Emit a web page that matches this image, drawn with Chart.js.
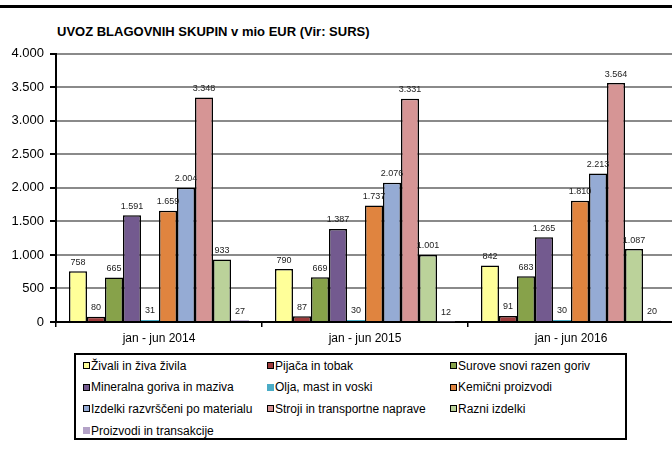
<!DOCTYPE html>
<html>
<head>
<meta charset="utf-8">
<script src="https://cdn.jsdelivr.net/npm/chart.js@4/dist/chart.umd.min.js"></script>
<style>
  body { margin: 0; background: #fff; }
  #wrap { position: relative; width: 672px; height: 452px; overflow: hidden; background: #fff;
          font-family: "Liberation Sans", Arial, sans-serif; }
  #topline { position: absolute; left: 0; top: 5px; width: 672px; height: 3px; background: #000; }
  #title { position: absolute; left: 57px; top: 24px; font-weight: bold; font-size: 13px; line-height: 16px; color: #000; }
  #chartBox { position: absolute; left: 0; top: 40px; }
  #legend { position: absolute; left: 74px; top: 353px; width: 553px; height: 87px; box-sizing: border-box;
            border: 2px solid #000; padding: 0 0 0 7px; display: grid;
            grid-template-columns: 184px 183px auto; grid-auto-rows: 21.6px; font-size: 12px; color: #000; }
  #legend .item { display: flex; align-items: center; white-space: nowrap; }
  #legend .sw { width: 7px; height: 7px; box-sizing: border-box; margin-right: 1px; flex: none; }
</style>
</head>
<body>
<div id="wrap">
  <div id="topline"></div>
  <div id="title">UVOZ BLAGOVNIH SKUPIN v mio EUR (Vir: SURS)</div>
  <div id="chartBox"><canvas id="chart" width="680" height="310"></canvas></div>
  <div id="legend"></div>
</div>
<script>
// podatki
const categories = ["jan - jun 2014", "jan - jun 2015", "jan - jun 2016"];
const seriesNames = ["Živali in živa živila", "Pijača in tobak", "Surove snovi razen goriv",
  "Mineralna goriva in maziva", "Olja, mast in voski", "Kemični proizvodi",
  "Izdelki razvrščeni po materialu", "Stroji in transportne naprave", "Razni izdelki",
  "Proizvodi in transakcije"];
const zivali = [758, 790, 842];
const pijaca = [80, 87, 91];
const surove = [665, 669, 683];
const mineralna = [1591, 1387, 1265];
const olja = [31, 30, 30];
const kemicni = [1659, 1737, 1810];
const izdelki = [2004, 2076, 2213];
const stroji = [3348, 3331, 3564];
const razni = [933, 1001, 1087];
const proizvodi = [27, 12, 20];
const yTicks = [0, 500, 1000, 1500, 2000, 2500, 3000, 3500, 4000];

const seriesValues = [zivali, pijaca, surove, mineralna, olja, kemicni, izdelki, stroji, razni, proizvodi];
const colors = ["#FFFF99", "#9E3B3B", "#87A24A", "#735A8F", "#4BACC6", "#E0843F",
  "#95ABD4", "#D69595", "#BBD29A", "#B3A2C7"];
const noBorder = [false, false, false, false, true, false, false, false, false, true];

function fmt(v) {
  return String(v).replace(/\B(?=(\d{3})+(?!\d))/g, ".");
}

Chart.defaults.font.family = '"Liberation Sans", Arial, sans-serif';
Chart.defaults.color = "#000";

const datasets = seriesNames.map((name, i) => ({
  label: name,
  data: seriesValues[i],
  backgroundColor: colors[i],
  borderColor: noBorder[i] ? colors[i] : "#000",
  borderWidth: noBorder[i] ? 0 : 1.5,
  categoryPercentage: 0.874,
  barPercentage: 1
}));

// vrednosti nad stolpci
const valueLabels = {
  id: "valueLabels",
  afterDatasetsDraw(chart) {
    const ctx = chart.ctx;
    ctx.save();
    ctx.font = '9px "Liberation Sans", Arial, sans-serif';
    ctx.fillStyle = "#222";
    ctx.textAlign = "center";
    ctx.textBaseline = "middle";
    chart.data.datasets.forEach((ds, i) => {
      chart.getDatasetMeta(i).data.forEach((bar, j) => {
        ctx.fillText(fmt(ds.data[j]), bar.x, bar.y - 9);
      });
    });
    ctx.restore();
  }
};

const chart = new Chart(document.getElementById("chart"), {
  type: "bar",
  data: { labels: categories, datasets: datasets },
  options: {
    responsive: false,
    animation: false,
    layout: { padding: { top: 11, right: 6, left: 0, bottom: 0 } },
    plugins: { legend: { display: false }, tooltip: { enabled: false } },
    scales: {
      x: {
        grid: { offset: true, drawOnChartArea: false, color: "#000", tickLength: 5, lineWidth: 1.5 },
        border: { color: "#000", width: 2 },
        ticks: { font: { size: 12 }, color: "#000", padding: 4 },
        afterFit(scale) { scale.height = 28; }
      },
      y: {
        min: 0,
        max: 4000,
        afterBuildTicks(scale) { scale.ticks = yTicks.map(v => ({ value: v })); },
        grid: {
          color: ctx => ctx.tick && ctx.tick.value === 0 ? "#000" : "#8a8a8a",
          lineWidth: 2,
          tickColor: "#000",
          tickLength: 6
        },
        border: { color: "#000", width: 2 },
        ticks: { font: { size: 13 }, color: "#000", padding: 6, callback: v => fmt(v) },
        afterFit(scale) { scale.width = 56; }
      }
    }
  },
  plugins: [valueLabels]
});

// legenda
const legend = document.getElementById("legend");
chart.data.datasets.forEach((ds, i) => {
  const item = document.createElement("div");
  item.className = "item";
  const sw = document.createElement("span");
  sw.className = "sw";
  sw.style.background = ds.backgroundColor;
  if (!noBorder[i]) sw.style.border = "1px solid #000";
  item.appendChild(sw);
  item.appendChild(document.createTextNode(ds.label));
  legend.appendChild(item);
});
</script>
</body>
</html>
